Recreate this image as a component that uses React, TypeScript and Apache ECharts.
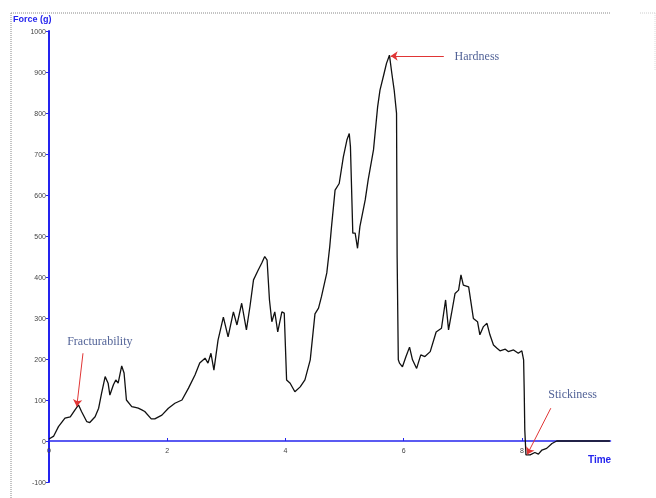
import React, { useEffect, useRef } from "react";
import * as echarts from "echarts";

// Time (s) and Force (g)
const time = [
  0, 0.08, 0.16, 0.27, 0.36, 0.44, 0.5, 0.55, 0.64, 0.69, 0.78, 0.84, 0.89, 0.95, 1.0, 1.03, 1.09, 1.13, 1.17,
  1.23, 1.27, 1.31, 1.4, 1.46, 1.51, 1.57, 1.62, 1.73, 1.79, 1.91, 2.02, 2.13, 2.25, 2.36, 2.47, 2.55, 2.64,
  2.69, 2.74, 2.79, 2.86, 2.95, 3.03, 3.12, 3.18, 3.26, 3.34, 3.4, 3.46, 3.54, 3.6, 3.65, 3.69, 3.73, 3.77,
  3.82, 3.87, 3.94, 3.98, 4.02, 4.08, 4.16, 4.25, 4.33, 4.42, 4.5, 4.56, 4.61, 4.7, 4.75, 4.78, 4.84, 4.91,
  4.98, 5.04, 5.08, 5.1, 5.14, 5.18, 5.22, 5.26, 5.35, 5.4, 5.49, 5.56, 5.6, 5.67, 5.71, 5.76, 5.8, 5.84,
  5.88, 5.89, 5.91, 5.93, 5.98, 6.04, 6.1, 6.15, 6.22, 6.29, 6.36, 6.45, 6.55, 6.64, 6.71, 6.76, 6.81, 6.87,
  6.93, 6.97, 7.01, 7.1, 7.18, 7.25, 7.29, 7.35, 7.41, 7.46, 7.52, 7.58, 7.63, 7.72, 7.77, 7.86, 7.94, 8.0,
  8.03, 8.04, 8.05, 8.07, 8.14, 8.22, 8.28, 8.34, 8.42, 8.51, 8.59, 9.49,
];
const force = [
  5, 12, 35, 56, 59, 76, 88, 72, 47, 45, 59, 80, 117, 157, 141, 112, 137, 149, 141,
  183, 166, 100, 84, 82, 80, 76, 72, 54, 54, 63, 80, 92, 100, 129, 161, 190, 202,
  190, 214, 173, 246, 302, 254, 315, 283, 336, 271, 328, 393, 417, 434, 450, 441, 344, 291,
  315, 266, 315, 312, 149, 141, 120, 132, 149, 198, 310, 324, 352, 410, 474, 523, 612, 628,
  693, 734, 750, 718, 507, 507, 470, 523, 588, 637, 710, 815, 856, 897, 921, 941, 897, 856,
  799, 450, 198, 190, 181, 206, 229, 198, 177, 210, 206, 218, 266, 275, 344, 271, 311, 360,
  368, 405, 380, 376, 299, 291, 259, 279, 287, 259, 234, 226, 220, 224, 218, 222, 214, 220,
  198, 124, 27, -34, -34, -28, -32, -22, -18, -6, 0, 0,
];

const xTicks = [0, 2, 4, 6, 8];
const yMin = -100;
const yMax = 1000;

// annotations: label, label position, arrow start, arrow tip (data coords)
const noteNames = ["Fracturability", "Hardness", "Stickiness"];
const notePos = [
  [0.86, 245],
  [7.24, 939],
  [8.86, 115],
];
const arrowFrom = [
  [0.575, 214],
  [6.68, 939],
  [8.49, 80],
];
const arrowTo = [
  [0.47, 84],
  [5.78, 939],
  [8.09, -33],
];

export default function App() {
  const ref = useRef<HTMLDivElement>(null);
  useEffect(() => {
    if (!ref.current) return;
    const chart = echarts.init(ref.current, null, { renderer: "svg" });
    const blue = "#2424ee";
    const gridTop = 31;
    const gridBottom = 16;
    const gridH = 498 - gridTop - gridBottom;
    const zeroOffset = -((0 - yMin) / (yMax - yMin)) * gridH;
    const tickFont = { fontFamily: "Liberation Sans", fontSize: 7, color: "#444" };
    chart.setOption({
      animation: false,
      grid: { left: 49, right: 45.5, top: gridTop, bottom: gridBottom, containLabel: false, outerBoundsMode: "none" },
      xAxis: {
        type: "value",
        min: 0,
        max: 9.5,
        interval: 2,
        offset: zeroOffset,
        splitLine: { show: false },
        axisLine: { onZero: false, lineStyle: { color: blue, width: 1.5 } },
        axisTick: { show: true, inside: true, length: 3, customValues: xTicks, lineStyle: { color: blue } },
        axisLabel: { ...tickFont, margin: 6, customValues: xTicks },
      },
      yAxis: {
        type: "value",
        min: yMin,
        max: yMax,
        interval: 100,
        splitLine: { show: false },
        axisLine: { show: true, onZero: false, lineStyle: { color: blue, width: 2 } },
        axisTick: { show: true, length: 3, lineStyle: { color: blue } },
        axisLabel: { ...tickFont, margin: 3, formatter: (v: number) => String(v) },
      },
      graphic: [
        {
          type: "text",
          left: 13,
          top: 14,
          style: { text: "Force (g)", fill: blue, font: "bold 9px 'Liberation Sans'" },
        },
        {
          type: "text",
          left: 588,
          top: 454,
          style: { text: "Time", fill: blue, font: "bold 10px 'Liberation Sans'" },
        },
        {
          type: "line",
          shape: { x1: 11, y1: 13, x2: 610, y2: 13 },
          style: { stroke: "#888", lineWidth: 1, lineDash: [1, 1] },
        },
        {
          type: "line",
          shape: { x1: 11, y1: 13, x2: 11, y2: 498 },
          style: { stroke: "#888", lineWidth: 1, lineDash: [1, 1] },
        },
        {
          type: "line",
          shape: { x1: 640, y1: 13, x2: 656, y2: 13 },
          style: { stroke: "#ccc", lineWidth: 1, lineDash: [1, 1] },
        },
        {
          type: "line",
          shape: { x1: 655, y1: 13, x2: 655, y2: 70 },
          style: { stroke: "#ddd", lineWidth: 1, lineDash: [1, 1] },
        },
      ],
      series: [
        {
          type: "line",
          data: time.map((t, i) => [t, force[i]]),
          showSymbol: false,
          symbol: "none",
          lineStyle: { color: "#111", width: 1.3 },
          silent: true,
          markLine: {
            silent: true,
            symbol: ["none", "arrow"],
            symbolSize: 7,
            label: { show: false },
            lineStyle: { color: "#e03535", width: 1, type: "solid" },
            data: arrowFrom.map((a, i) => [{ coord: a }, { coord: arrowTo[i] }]),
          },
        },
        {
          type: "scatter",
          symbolSize: 1,
          itemStyle: { color: "transparent" },
          silent: true,
          data: notePos.map((p, i) => [p[0], p[1], noteNames[i]]),
          label: {
            show: true,
            position: "inside",
            formatter: (p: any) => p.data[2],
            fontFamily: "Liberation Serif",
            fontSize: 12,
            color: "#243a7c",
          },
        },
      ],
    });
    return () => chart.dispose();
  }, []);
  return <div ref={ref} style={{ position: "fixed", left: 0, top: 0, width: 656, height: 498 }} />;
}
